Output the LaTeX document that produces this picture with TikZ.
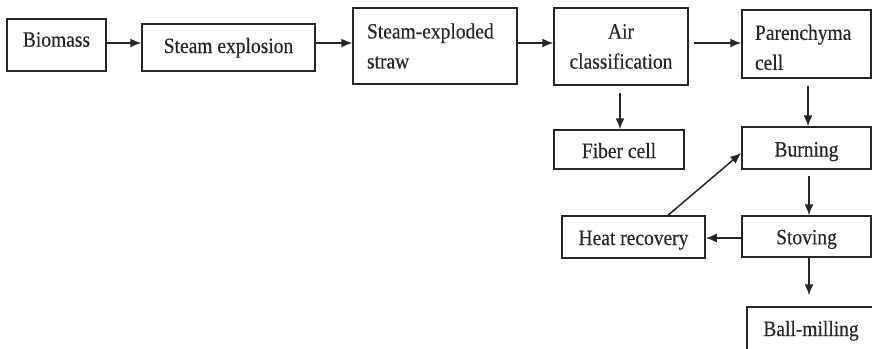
\documentclass[tikz,border=0pt]{standalone}
\usepackage{graphicx}
\usepackage{fontspec}
\setmainfont{Liberation Serif}[FakeBold=0.3]
\usetikzlibrary{arrows.meta,calc}
\newcommand{\T}[1]{\scalebox{1}[1.12]{#1}}
\begin{document}
\begin{tikzpicture}[x=1pt,y=-1pt,
  box/.style={draw=black!85, line width=1.5pt, inner sep=0pt, text=black!85, font=\fontsize{19.5}{30}\selectfont},
  bl/.style={text height=#1, text depth=0pt},
  arr/.style={draw=black!85, line width=1.5pt, -{Latex[length=11pt,width=9pt]}}]
\useasboundingbox (0,0) rectangle (872,348);
\clip (0,0) rectangle (872,348);
\node[box, minimum width=99pt, minimum height=52pt, bl=3.4pt] (bio) at (56.5,45) {\T{Biomass}};
\node[box, minimum width=173pt, minimum height=47pt, bl=11pt] (exp) at (228.5,47.5) {\T{Steam explosion}};
\node[box, minimum width=164pt, minimum height=76pt, text width=136pt, align=left] (straw) at (435,46) {\T{Steam-exploded}\\\T{straw}};
\node[box, minimum width=134pt, minimum height=77pt, align=center] (air) at (621,46.5) {\T{Air}\\\T{classification}};
\node[box, minimum width=129pt, minimum height=68pt, text width=103pt, align=left] (par) at (806.5,44) {\rule{0pt}{22pt}\T{Parenchyma}\\\T{cell}};
\node[box, minimum width=130pt, minimum height=39pt, bl=17pt] (fiber) at (619,149.5) {\T{Fiber cell}};
\node[box, minimum width=129pt, minimum height=42pt, bl=17pt] (burn) at (806.5,148) {\T{Burning}};
\node[box, minimum width=129pt, minimum height=41pt, bl=15.6pt] (stov) at (806.5,236.5) {\T{Stoving}};
\node[box, minimum width=143pt, minimum height=42pt, bl=16pt] (heat) at (633.5,237) {\T{Heat recovery}};
\node[box, minimum width=128pt, minimum height=44pt, bl=14pt] (ball) at (811,329) {\T{Ball-milling}};
\draw[arr] (bio.east |- 0,43) -- (exp.west |- 0,43);
\draw[arr] (exp.east |- 0,43) -- (straw.west |- 0,43);
\draw[arr] (straw.east |- 0,43) -- (air.west |- 0,43);
\draw[arr, shorten <=5pt] (air.east |- 0,43) -- (par.west |- 0,43);
\draw[arr, shorten <=7pt] (air.south -| 620,0) -- (fiber.north -| 620,0);
\draw[arr, shorten <=7pt] (par.south -| 808,0) -- (burn.north -| 808,0);
\draw[arr, shorten <=6pt] (burn.south -| 809,0) -- (stov.north -| 809,0);
\draw[arr] (stov.west |- 0,238) -- (heat.east |- 0,238);
\draw[arr] (heat.north -| 668,0) -- (burn.west |- 0,153);
\draw[arr, shorten >=11pt] (stov.south -| 809,0) -- (ball.north -| 809,0);
\end{tikzpicture}
\end{document}
